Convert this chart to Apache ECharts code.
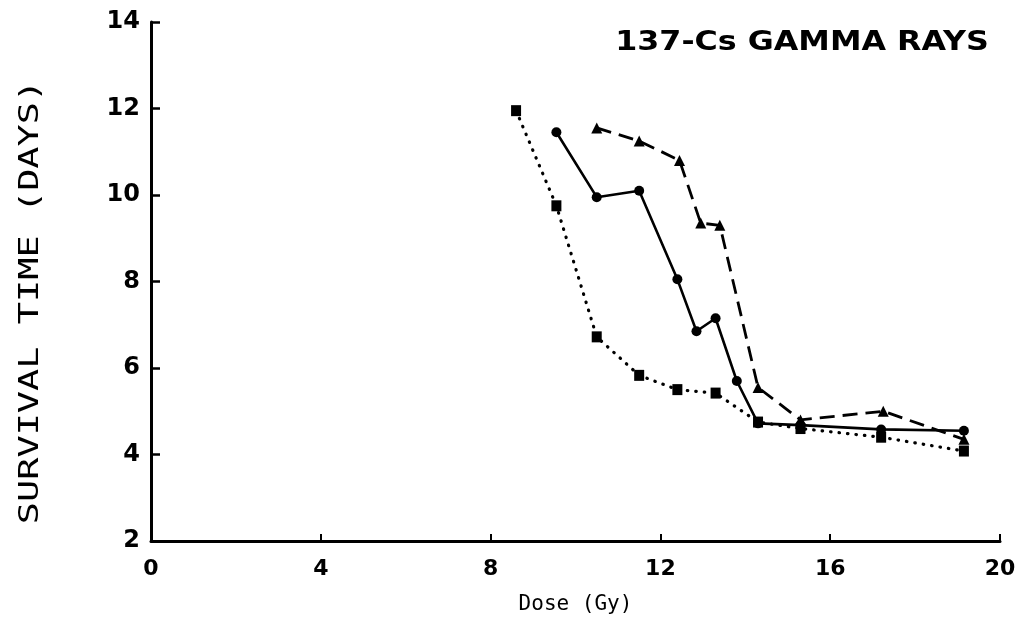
<!DOCTYPE html>
<html>
<head>
<meta charset="utf-8">
<script src="https://cdn.jsdelivr.net/npm/echarts@6/dist/echarts.min.js"></script>
<style>
  html, body { margin: 0; padding: 0; background: #fff; }
  #chart { width: 1021px; height: 620px; }
</style>
</head>
<body>
<div id="chart"></div>
<script>
// Survival time after 137-Cs gamma irradiation, three groups
const titleText = '137-Cs GAMMA RAYS';
const xAxisTitle = 'Dose (Gy)';
const yAxisTitle = 'SURVIVAL TIME (DAYS)';

const xTicks = [0, 4, 8, 12, 16, 20];
const yTicks = [2, 4, 6, 8, 10, 12, 14];

// group drawn with circles and a solid line
const circleDose = [9.55, 10.5, 11.5, 12.4, 12.85, 13.3, 13.8, 14.3, 15.3, 17.2, 19.15];
const circleDays = [11.45, 9.95, 10.1, 8.05, 6.85, 7.15, 5.7, 4.72, 4.68, 4.58, 4.55];

// group drawn with triangles and a dashed line
const triDose = [10.5, 11.5, 12.45, 12.95, 13.4, 14.3, 15.3, 17.25, 19.15];
const triDays = [11.55, 11.25, 10.8, 9.35, 9.3, 5.55, 4.8, 5.0, 4.35];

// group drawn with squares and a dotted line
const sqDose = [8.6, 9.55, 10.5, 11.5, 12.4, 13.3, 14.3, 15.3, 17.2, 19.15];
const sqDays = [11.95, 9.75, 6.72, 5.83, 5.5, 5.42, 4.75, 4.6, 4.4, 4.08];

const pair = (xs, ys) => xs.map((x, i) => [x, ys[i]]);

const chart = echarts.init(document.getElementById('chart'), null, { renderer: 'canvas' });

const axisLine = { show: true, onZero: false, lineStyle: { color: '#000', width: 3 } };

chart.setOption({
  backgroundColor: '#fff',
  animation: false,
  grid: { left: 151, right: 21, top: 22, bottom: 78 },
  xAxis: {
    type: 'value',
    min: 0, max: 20, interval: 4,
    name: xAxisTitle,
    nameLocation: 'middle',
    nameGap: 53,
    nameTextStyle: { fontFamily: 'DejaVu Sans Mono', fontSize: 21, color: '#000' },
    axisLine: axisLine,
    axisTick: { show: true, inside: true, length: 7, lineStyle: { color: '#000', width: 2 } },
    axisLabel: {
      margin: 17, color: '#000', fontFamily: 'DejaVu Sans', fontWeight: 'bold', fontSize: 22,
      formatter: v => xTicks.includes(v) ? String(v) : ''
    },
    splitLine: { show: false }
  },
  yAxis: {
    type: 'value',
    min: 2, max: 14, interval: 2,
    axisLine: axisLine,
    axisTick: { show: true, inside: true, length: 9, lineStyle: { color: '#000', width: 2.5 } },
    axisLabel: {
      margin: 11, color: '#000', fontFamily: 'DejaVu Sans', fontWeight: 'bold', fontSize: 24,
      formatter: v => yTicks.includes(v) ? String(v) : ''
    },
    splitLine: { show: false }
  },
  graphic: [
    {
      type: 'text', x: 802, y: 43, scaleX: 1.22,
      style: {
        text: titleText, fill: '#000',
        font: 'bold 26px "DejaVu Sans"',
        textAlign: 'center', textVerticalAlign: 'middle', verticalAlign: 'middle'
      }
    },
    {
      type: 'text', x: 31, y: 302, rotation: Math.PI / 2, scaleX: 1.42,
      style: {
        text: yAxisTitle, fill: '#000',
        font: '26px "DejaVu Sans Mono"',
        textAlign: 'center', textVerticalAlign: 'middle', verticalAlign: 'middle'
      }
    }
  ],
  series: [
    {
      type: 'line', name: 'circles', data: pair(circleDose, circleDays),
      symbol: 'circle', symbolSize: 10,
      lineStyle: { color: '#000', width: 2.6 },
      itemStyle: { color: '#000' }
    },
    {
      type: 'line', name: 'triangles', data: pair(triDose, triDays),
      symbol: 'triangle', symbolSize: 11,
      lineStyle: { color: '#000', width: 2.8, type: [15, 8] },
      itemStyle: { color: '#000' }
    },
    {
      type: 'line', name: 'squares', data: pair(sqDose, sqDays),
      symbol: 'rect', symbolSize: [10, 11],
      lineStyle: { color: '#000', width: 3.2, type: [0.5, 8], cap: 'round' },
      itemStyle: { color: '#000' }
    }
  ]
});
</script>
</body>
</html>
